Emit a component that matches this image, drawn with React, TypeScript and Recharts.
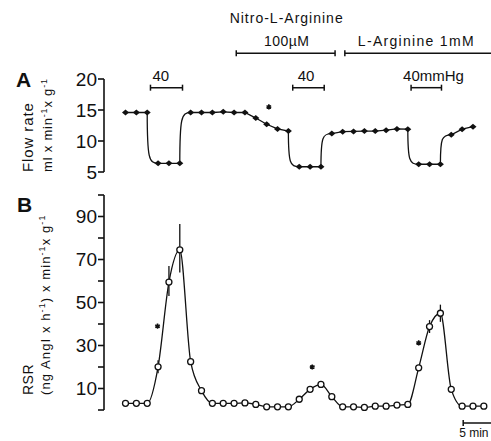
import { LineChart, Line, XAxis, YAxis, ErrorBar, ReferenceLine, ReferenceDot } from "recharts"

// Panel A: renal flow rate (ml x min-1 x g-1), one value per sample
const flowRate = [
  14.6, 14.6, 14.6, 6.4, 6.4, 6.4, 14.6, 14.6, 14.6, 14.7, 14.6, 14.6, 13.7, 12.7, 11.95, 11.6,
  5.85, 5.85, 5.85, 11.2, 11.5, 11.55, 11.6, 11.6, 11.75, 11.95, 11.9, 6.25, 6.25, 6.25, 11.0, 11.9, 12.3,
]

// Panel B: renin secretion rate
const rsr = [
  3.1, 3.1, 3.1, 20.1, 59.5, 74.5, 22.5, 9.0, 3.1, 3.1, 3.1, 3.3, 2.6, 1.5, 1.5, 1.5, 5.0,
  9.6, 11.9, 6.2, 1.5, 1.5, 1.2, 1.8, 1.8, 2.3, 2.6, 19.6, 38.8, 45.0, 9.6, 1.8, 1.8, 1.8,
]
// [sample, minus, plus]
const rsrErrors = [
  [3, 3, 3],
  [4, 6.5, 7.5],
  [5, 10.5, 12],
  [28, 3, 3],
  [29, 4, 4],
]

const flowTicks = [5, 10, 15, 20]
const rsrTicks = [0, 10, 20, 30, 40, 50, 60, 70, 80, 90, 100]
const rsrTickLabels = [10, 30, 50, 70, 90]

// perfusion pressure reductions (sample units)
const pressureSteps = [
  { from: 2.3, to: 5.25, label: "40" },
  { from: 15.4, to: 18.3, label: "40" },
  { from: 26.3, to: 29.1, label: "40mmHg" },
]
const infusions = [
  { from: 10.2, to: 19.3, label: ["Nitro-L-Arginine", "100µM"] },
  { from: 20.2, to: 40, label: ["L-Arginine 1mM"] },
]
const flowStars = [{ i: 13.2, v: 15.5 }]
const rsrStars = [
  { i: 2.95, v: 39 },
  { i: 17.2, v: 20 },
  { i: 27, v: 31.2 },
]

const flowData = flowRate.map((v, i) => ({ i, v }))
const rsrData = rsr.map((v, i) => {
  const e = rsrErrors.find((r) => r[0] === i)
  return { i, v, err: e ? [e[1], e[2]] : null }
})

const FONT = "'Liberation Sans', Arial, sans-serif"
const INK = "#111"
const X_DOMAIN = [-1.98, 33.66]
const stepLabelShift = [2, 5, -8]

// drops / rises in flow: nearly vertical, then bending flat into the next point
function flowCurve(context: any) {
  let x0 = 0
  let y0 = 0
  let n = 0
  return {
    areaStart() {},
    areaEnd() {},
    lineStart() {
      n = 0
    },
    lineEnd() {},
    point(x: number, y: number) {
      x = +x
      y = +y
      if (n === 0) context.moveTo(x, y)
      else {
        const dx = x - x0
        const dy = y - y0
        if (Math.abs(dy) > 15) context.bezierCurveTo(x0, y0 + dy * 0.9, x0 + dx * 0.15, y, x, y)
        else context.lineTo(x, y)
      }
      x0 = x
      y0 = y
      n++
    },
  }
}

const FlowDot = (p: any) => (
  <path
    key={p.index}
    d={`M${p.cx - 3.5},${p.cy}L${p.cx},${p.cy - 3}L${p.cx + 3.5},${p.cy}L${p.cx},${p.cy + 3}Z`}
    fill={INK}
  />
)

const Star = (p: any) => (
  <path
    d={`M${p.cx},${p.cy - 2.6}V${p.cy + 2.6}M${p.cx - 2.3},${p.cy - 1.3}L${p.cx + 2.3},${p.cy + 1.3}M${p.cx - 2.3},${p.cy + 1.3}L${p.cx + 2.3},${p.cy - 1.3}`}
    stroke={INK}
    strokeWidth={1.6}
  />
)

const RsrTick = (p: any) =>
  rsrTickLabels.includes(p.payload.value) ? (
    <text x={p.x} y={p.y} dy="0.355em" textAnchor="end" fontSize={19} fill={INK} fontFamily={FONT}>
      {p.payload.value}
    </text>
  ) : (
    <g />
  )

const barEnds = (vb: any, right = true) => (
  <>
    <line x1={vb.x} x2={vb.x} y1={vb.y - 3} y2={vb.y + 3} stroke={INK} strokeWidth={1.5} />
    {right && <line x1={vb.x + vb.width} x2={vb.x + vb.width} y1={vb.y - 3} y2={vb.y + 3} stroke={INK} strokeWidth={1.5} />}
  </>
)

export default function App() {
  return (
    <div style={{ position: "absolute", left: 0, top: 0, width: 491, height: 441, background: "#fff" }}>
      <div style={{ position: "absolute", left: 0, top: 0 }}>
        <LineChart width={491} height={200} data={flowData} margin={{ top: 79, right: 0, bottom: 28, left: 0 }}>
          <XAxis type="number" dataKey="i" domain={X_DOMAIN} allowDataOverflow hide />
          <YAxis
            width={104}
            domain={[5, 20]}
            ticks={flowTicks}
            interval={0}
            tickSize={6}
            tickMargin={1}
            axisLine={{ stroke: INK, strokeWidth: 1.6 }}
            tickLine={{ stroke: INK, strokeWidth: 1.6 }}
            tick={{ fontSize: 19, fill: INK, fontFamily: FONT }}
          />
          {infusions.map((s, k) => (
            <ReferenceLine
              key={"inf" + k}
              segment={[
                { x: s.from, y: 24.15 },
                { x: s.to, y: 24.15 },
              ]}
              ifOverflow="visible"
              stroke={INK}
              strokeWidth={1.5}
              label={(p: any) => (
                <g fontFamily={FONT} fontSize={14} fill={INK}>
                  {barEnds(p.viewBox, s.label.length > 1)}
                  {s.label.length > 1 ? (
                    <>
                      <text x={p.viewBox.x + p.viewBox.width / 2 + 1} y={p.viewBox.y - 30} textAnchor="middle" letterSpacing={1}>
                        {s.label[0]}
                      </text>
                      <text x={p.viewBox.x + p.viewBox.width / 2 + 1} y={p.viewBox.y - 7} textAnchor="middle" letterSpacing={0.4}>
                        {s.label[1]}
                      </text>
                    </>
                  ) : (
                    <text x={p.viewBox.x + 13} y={p.viewBox.y - 7} letterSpacing={1.3}>
                      {s.label[0]}
                    </text>
                  )}
                </g>
              )}
            />
          ))}
          {pressureSteps.map((s, k) => (
            <ReferenceLine
              key={"ps" + k}
              segment={[
                { x: s.from, y: 18.6 },
                { x: s.to, y: 18.6 },
              ]}
              ifOverflow="visible"
              stroke={INK}
              strokeWidth={1.5}
              label={(p: any) => (
                <g>
                  {barEnds(p.viewBox)}
                  <text x={p.viewBox.x + stepLabelShift[k]} y={p.viewBox.y - 6.5} fontSize={15} fill={INK} fontFamily={FONT}>
                    {s.label}
                  </text>
                </g>
              )}
            />
          ))}
          {flowStars.map((s, k) => (
            <ReferenceDot key={"fs" + k} x={s.i} y={s.v} r={0} ifOverflow="visible" shape={Star} />
          ))}
          <Line
            dataKey="v"
            type={flowCurve as any}
            stroke={INK}
            strokeWidth={1.3}
            dot={FlowDot}
            activeDot={false}
            isAnimationActive={false}
          />
        </LineChart>
      </div>

      <div style={{ position: "absolute", left: 0, top: 180 }}>
        <LineChart width={491} height={261} data={rsrData} margin={{ top: 15, right: 0, bottom: 31, left: 0 }}>
          <XAxis type="number" dataKey="i" domain={X_DOMAIN} allowDataOverflow hide />
          <YAxis
            width={104}
            domain={[0, 100]}
            ticks={rsrTicks}
            interval={0}
            tickSize={6}
            tickMargin={1}
            axisLine={{ stroke: INK, strokeWidth: 1.6 }}
            tickLine={{ stroke: INK, strokeWidth: 1.6 }}
            tick={RsrTick}
          />
          {rsrStars.map((s, k) => (
            <ReferenceDot key={"rs" + k} x={s.i} y={s.v} r={0} ifOverflow="visible" shape={Star} />
          ))}
          <ReferenceLine
            segment={[
              { x: 31.1, y: -6 },
              { x: 40, y: -6 },
            ]}
            ifOverflow="visible"
            stroke={INK}
            strokeWidth={1.5}
            label={(p: any) => (
              <g>
                {barEnds(p.viewBox, false)}
                <text x={p.viewBox.x - 4} y={p.viewBox.y + 14} fontSize={12} fill={INK} fontFamily={FONT}>
                  5 min
                </text>
              </g>
            )}
          />
          <Line
            dataKey="v"
            type="monotone"
            stroke={INK}
            strokeWidth={1.3}
            dot={{ r: 3, fill: "#fff", stroke: INK, strokeWidth: 1.3 }}
            activeDot={false}
            isAnimationActive={false}
          >
            <ErrorBar dataKey="err" width={0} stroke={INK} strokeWidth={1.3} direction="y" />
          </Line>
        </LineChart>
      </div>

      <svg width={491} height={441} style={{ position: "absolute", left: 0, top: 0, pointerEvents: "none" }} fontFamily={FONT} fill={INK}>
        <text x={16} y={87} fontSize={21} fontWeight="bold">
          A
        </text>
        <text x={17} y={212} fontSize={21} fontWeight="bold">
          B
        </text>
        <text transform="translate(33,172) rotate(-90)" fontSize={15} letterSpacing={0.9}>
          Flow rate
        </text>
        <text transform="translate(52,172) rotate(-90)" fontSize={13} letterSpacing={0.8}>
          ml x min
          <tspan fontSize={9} dy={-5}>
            -1
          </tspan>
          <tspan dy={5}>x g</tspan>
          <tspan fontSize={9} dy={-5}>
            -1
          </tspan>
        </text>
        <text transform="translate(33,395) rotate(-90)" fontSize={14} letterSpacing={0.5}>
          RSR
        </text>
        <text transform="translate(50,395) rotate(-90)" fontSize={13} letterSpacing={1.1}>
          (ng AngI x h
          <tspan fontSize={9} dy={-5}>
            -1
          </tspan>
          <tspan dy={5}>) x min</tspan>
          <tspan fontSize={9} dy={-5}>
            -1
          </tspan>
          <tspan dy={5}>x g</tspan>
          <tspan fontSize={9} dy={-5}>
            -1
          </tspan>
        </text>
      </svg>
    </div>
  )
}
